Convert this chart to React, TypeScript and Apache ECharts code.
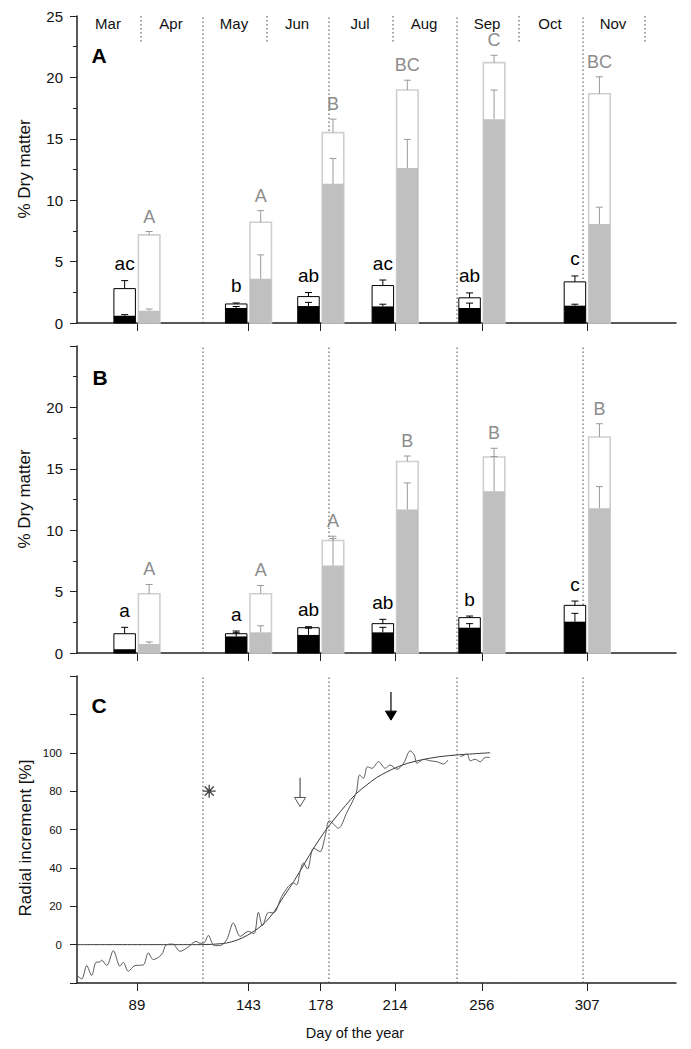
import React, { useEffect, useRef } from "react";
import * as echarts from "echarts";

// ---------- DATA ----------
const groupDays = [89, 143, 178, 214, 256, 307];
const dividerDays = [121, 182, 244, 305];
const monthStartDays = [91, 152, 213, 274, 335];
const monthNames = ["Mar", "Apr", "May", "Jun", "Jul", "Aug", "Sep", "Oct", "Nov"];
const monthMidDays = [75, 105.5, 136, 166.5, 197, 228, 258.5, 289, 319.5];
const xTickDays = [89, 143, 178, 214, 256, 307];

// Panel A
const aWhiteTotal = [2.8, 1.55, 2.15, 3.05, 2.05, 3.35];
const aWhiteTotalErr = [0.65, 0.08, 0.33, 0.45, 0.4, 0.48];
const aBlack = [0.6, 1.22, 1.38, 1.35, 1.22, 1.41];
const aBlackErr = [0.08, 0.12, 0.3, 0.18, 0.4, 0.12];
const aGreyTotal = [7.18, 8.2, 15.5, 18.97, 21.2, 18.67];
const aGreyTotalErr = [0.27, 0.95, 1.1, 0.8, 0.6, 1.38];
const aGrey = [1.0, 3.6, 11.33, 12.63, 16.6, 8.07];
const aGreyErr = [0.14, 1.95, 2.07, 2.32, 2.37, 1.36];
const aBlackLetters = ["ac", "b", "ab", "ac", "ab", "c"];
const aGreyLetters = ["A", "A", "B", "BC", "C", "BC"];

// Panel B
const bWhiteTotal = [1.57, 1.57, 2.06, 2.39, 2.88, 3.88];
const bWhiteTotalErr = [0.52, 0.22, 0.08, 0.35, 0.13, 0.35];
const bBlack = [0.3, 1.35, 1.47, 1.68, 2.06, 2.55];
const bBlackErr = [0, 0.3, 0.55, 0.41, 0.33, 0.68];
const bGreyTotal = [4.83, 4.83, 9.16, 15.6, 15.96, 17.59];
const bGreyTotalErr = [0.75, 0.67, 0.35, 0.44, 0.71, 1.08];
const bGrey = [0.73, 1.68, 7.13, 11.68, 13.17, 11.79];
const bGreyErr = [0.17, 0.54, 2.2, 2.17, 2.83, 1.76];
const bBlackLetters = ["a", "a", "ab", "ab", "b", "c"];
const bGreyLetters = ["A", "A", "A", "B", "B", "B"];

// Panel C
const radialDays1 = [60.1, 62.3, 64.7, 67.1, 69.2, 71.1, 71.9, 74.4, 77.6, 80.8, 82.4, 84.8, 88.1, 92.1, 94.5, 96.9, 101, 103.1, 106.3, 109.9, 113.9, 117.6, 119.6, 121.5, 123.6, 126.4, 129.3, 132.5, 135.7, 139, 143, 145.7, 147.8, 149.8, 152.7, 155.1, 159.1, 162.3, 164.8, 166.4, 168, 169.6, 171.6, 174.5, 177.7, 180.1, 182.2, 186.6, 190.6, 195.1, 196.8, 198.7, 200.6, 202.8, 206, 209.2, 211.6, 214.9, 218.1, 221.3, 223.3, 224.6, 227.8, 231, 234.3, 237.5, 239.6];
const radialVals1 = [-16.1, -17.9, -10.9, -16.1, -9.2, -9.0, -8.1, -10.9, -3.1, -11.3, -9.2, -13.9, -10.9, -10.6, -4.3, -7.8, -5.2, -0.2, 0.3, -3.5, -1.2, 1.7, 0.7, 0.9, 4.8, -0.5, -0.5, 2.6, 11.3, 4.3, 6.9, 5.7, 16.8, 9.9, 16.8, 16.5, 25.1, 30.3, 32.1, 31.2, 38.1, 42.5, 39.4, 50.3, 48.5, 56.3, 64.6, 60.7, 68.8, 78.9, 88.4, 86.7, 92.7, 91.9, 95.3, 91.9, 93.6, 91.4, 94.5, 101, 98.8, 94.5, 96.6, 95.8, 95.3, 94.1, 96.2];
const radialDays2 = [245.5, 248.8, 250.4, 252.8, 255.2, 257.7, 259.8];
const radialVals2 = [97.9, 99.3, 95.8, 96.6, 95.3, 97.6, 97.6];
const fitDays = [60, 120, 130, 135, 140, 145, 150, 155, 160, 165, 170, 175, 180, 185, 190, 195, 200, 205, 210, 215, 220, 230, 240, 250, 260];
const fitVals = [0, 0, 0.5, 1.5, 3.5, 6.5, 10.5, 16.5, 25, 33, 42, 51, 59, 66, 72.5, 78.5, 83, 87, 90, 92.5, 94.5, 97, 98.5, 99.3, 100];
const asteriskPoint = [124, 80];
const arrowDays = [168, 212];
const arrowTops = [87, 131.7];
const arrowTips = [72, 117];
const arrowFilled = [0, 1];

// ---------- LAYOUT ----------
const FONT = "'Liberation Sans', Arial, Helvetica, sans-serif";
const NARROW = "'Liberation Sans Narrow', 'Arial Narrow', 'Liberation Sans', Arial, sans-serif";
const GRID_LEFT = 77;
const GRID_RIGHT = 15;
const GRIDS = [
  { top: 16, height: 307 },
  { top: 346, height: 307 },
  { top: 676, height: 307 },
];
const X_MIN = 60;
const X_MAX = 350;

function barSeries(
  gi: number,
  totals: number[],
  totalErrs: number[],
  parts: number[],
  partErrs: number[],
  letters: string[],
  side: "left" | "right"
) {
  const isLeft = side === "left";
  const outline = isLeft ? "#000" : "#cfcfcf";
  const outlineW = isLeft ? 1 : 1.6;
  const fill = isLeft ? "#000" : "#c0c0c0";
  const errColor = isLeft ? "#000" : "#9a9a9a";
  const letterColor = isLeft ? "#000" : "#8c8c8c";
  const letterSize = isLeft ? 19 : 18;
  const letterGap = isLeft ? 7.5 : 6;
  return {
    type: "custom",
    xAxisIndex: gi,
    yAxisIndex: gi,
    silent: true,
    data: groupDays.map((d, i) => [d, totals[i], totalErrs[i], parts[i], partErrs[i]]),
    encode: { x: 0, y: 1 },
    renderItem: (params: any, api: any) => {
      const i = params.dataIndex;
      const d = api.value(0);
      const tot = api.value(1);
      const totErr = api.value(2);
      const part = api.value(3);
      const partErr = api.value(4);
      const base = api.coord([d, 0]);
      const W = 21.5;
      const G = 1.5;
      const x0 = isLeft ? base[0] - G - W : base[0] + G;
      const cx = x0 + W / 2;
      const yTot = api.coord([d, tot])[1];
      const yTotErr = api.coord([d, tot + totErr])[1];
      const yPart = api.coord([d, part])[1];
      const yPartErr = api.coord([d, part + partErr])[1];
      const cap = 3.5;
      const children: any[] = [];
      children.push({
        type: "rect",
        shape: { x: x0, y: yTot, width: W, height: base[1] - yTot },
        style: { fill: "#fff", stroke: outline, lineWidth: outlineW },
      });
      children.push({
        type: "rect",
        shape: { x: x0, y: yPart, width: W, height: base[1] - yPart },
        style: { fill },
      });
      if (partErr > 0) {
        children.push({
          type: "line",
          shape: { x1: cx, y1: yPart, x2: cx, y2: yPartErr },
          style: { stroke: errColor, lineWidth: 1 },
        });
        children.push({
          type: "line",
          shape: { x1: cx - cap, y1: yPartErr, x2: cx + cap, y2: yPartErr },
          style: { stroke: errColor, lineWidth: 1 },
        });
      }
      if (totErr > 0) {
        children.push({
          type: "line",
          shape: { x1: cx, y1: yTot, x2: cx, y2: yTotErr },
          style: { stroke: errColor, lineWidth: 1 },
        });
        children.push({
          type: "line",
          shape: { x1: cx - cap, y1: yTotErr, x2: cx + cap, y2: yTotErr },
          style: { stroke: errColor, lineWidth: 1 },
        });
      }
      children.push({
        type: "text",
        x: cx,
        y: yTotErr - letterGap,
        style: {
          text: letters[i],
          align: "center",
          verticalAlign: "bottom",
          textAlign: "center",
          textVerticalAlign: "bottom",
          fontSize: letterSize,
          fontFamily: FONT,
          fill: letterColor,
        },
      });
      return { type: "group", children };
    },
  };
}

function dividerSeries(gi: number, yMin: number, yMax: number) {
  return {
    type: "custom",
    xAxisIndex: gi,
    yAxisIndex: gi,
    silent: true,
    data: dividerDays.map((d) => [d, yMin, yMax]),
    encode: { x: 0, y: [1, 2] },
    renderItem: (_p: any, api: any) => {
      const d = api.value(0);
      const a = api.coord([d, api.value(1)]);
      const b = api.coord([d, api.value(2)]);
      return {
        type: "line",
        shape: { x1: a[0], y1: a[1], x2: b[0], y2: b[1] },
        style: { stroke: "#444", lineWidth: 1, lineDash: [1.5, 2.5] },
      };
    },
  };
}

const App: React.FC = () => {
  const ref = useRef<HTMLDivElement>(null);
  useEffect(() => {
    if (!ref.current) return;
    const chart = echarts.init(ref.current, undefined, { renderer: "svg" });

    const grid = GRIDS.map((g) => ({
      left: GRID_LEFT,
      right: GRID_RIGHT,
      top: g.top,
      height: g.height,
      containLabel: false,
      outerBoundsMode: "none",
    }));

    const xAxis = [0, 1, 2].map((gi) => ({
      type: "value",
      gridIndex: gi,
      min: X_MIN,
      max: X_MAX,
      splitLine: { show: false },
      axisLine: { show: true, onZero: false, lineStyle: { color: "#222", width: 1.5 } },
      axisTick: {
        show: true,
        customValues: xTickDays,
        length: 8,
        lineStyle: { color: "#222", width: 1 },
      },
      axisLabel: {
        show: gi === 2,
        customValues: xTickDays,
        margin: 14,
        fontSize: 15,
        fontFamily: NARROW,
        color: "#111",
      },
    }));

    const yCommon = {
      type: "value",
      splitLine: { show: false },
      axisLine: { show: true, lineStyle: { color: "#222", width: 1.5 } },
      axisTick: { show: true, length: 7, lineStyle: { color: "#222", width: 1 } },
    };
    const yAxis = [
      {
        ...yCommon,
        gridIndex: 0,
        min: 0,
        max: 25,
        interval: 5,
        minorTick: { show: true, splitNumber: 2, length: 4, lineStyle: { color: "#222" } },
        axisLabel: { fontSize: 15, fontFamily: FONT, color: "#111", margin: 14 },
      },
      {
        ...yCommon,
        gridIndex: 1,
        min: 0,
        max: 25,
        interval: 5,
        minorTick: { show: true, splitNumber: 2, length: 4, lineStyle: { color: "#222" } },
        axisLabel: {
          fontSize: 15,
          fontFamily: FONT,
          color: "#111",
          margin: 14,
          formatter: (v: number) => (v <= 20 ? String(v) : ""),
        },
      },
      {
        ...yCommon,
        gridIndex: 2,
        min: -20,
        max: 140,
        interval: 20,
        axisLabel: {
          fontSize: 11.5,
          fontFamily: FONT,
          color: "#111",
          margin: 15,
          formatter: (v: number) => (v >= 0 && v <= 100 ? String(v) : ""),
        },
      },
    ];

    const monthLabelSeries = {
      type: "custom",
      xAxisIndex: 0,
      yAxisIndex: 0,
      silent: true,
      data: monthMidDays.map((d) => [d, 25]),
      encode: { x: 0, y: 1 },
      renderItem: (p: any, api: any) => {
        const pt = api.coord([api.value(0), api.value(1)]);
        return {
          type: "text",
          x: pt[0],
          y: pt[1] + 7.5,
          style: {
            text: monthNames[p.dataIndex],
            align: "center",
            verticalAlign: "middle",
            textAlign: "center",
            textVerticalAlign: "middle",
            fontSize: 15,
            fontFamily: FONT,
            fill: "#111",
          },
        };
      },
    };

    const monthSepSeries = {
      type: "custom",
      xAxisIndex: 0,
      yAxisIndex: 0,
      silent: true,
      data: monthStartDays.map((d) => [d, 25]),
      encode: { x: 0, y: 1 },
      renderItem: (_p: any, api: any) => {
        const pt = api.coord([api.value(0), api.value(1)]);
        return {
          type: "line",
          shape: { x1: pt[0], y1: pt[1], x2: pt[0], y2: pt[1] + 27 },
          style: { stroke: "#444", lineWidth: 1, lineDash: [1.5, 2.5] },
        };
      },
    };

    const arrowSeries = {
      type: "custom",
      xAxisIndex: 2,
      yAxisIndex: 2,
      silent: true,
      data: arrowDays.map((d, i) => [d, arrowTops[i], arrowTips[i], arrowFilled[i]]),
      encode: { x: 0, y: [1, 2] },
      renderItem: (_p: any, api: any) => {
        const d = api.value(0);
        const top = api.coord([d, api.value(1)]);
        const tip = api.coord([d, api.value(2)]);
        const filled = api.value(3) === 1;
        const h = 9;
        const hw = 5.5;
        const color = filled ? "#000" : "#555";
        return {
          type: "group",
          children: [
            {
              type: "line",
              shape: { x1: top[0], y1: top[1], x2: top[0], y2: tip[1] - h },
              style: { stroke: color, lineWidth: 1.2 },
            },
            {
              type: "polygon",
              shape: {
                points: [
                  [tip[0] - hw, tip[1] - h],
                  [tip[0] + hw, tip[1] - h],
                  [tip[0], tip[1]],
                ],
              },
              style: { fill: filled ? "#000" : "#fff", stroke: color, lineWidth: 1 },
            },
          ],
        };
      },
    };

    const series: any[] = [
      dividerSeries(0, 0, 25),
      dividerSeries(1, 0, 25),
      dividerSeries(2, -20, 140),
      monthSepSeries,
      monthLabelSeries,
      barSeries(0, aWhiteTotal, aWhiteTotalErr, aBlack, aBlackErr, aBlackLetters, "left"),
      barSeries(0, aGreyTotal, aGreyTotalErr, aGrey, aGreyErr, aGreyLetters, "right"),
      barSeries(1, bWhiteTotal, bWhiteTotalErr, bBlack, bBlackErr, bBlackLetters, "left"),
      barSeries(1, bGreyTotal, bGreyTotalErr, bGrey, bGreyErr, bGreyLetters, "right"),
      {
        type: "line",
        xAxisIndex: 2,
        yAxisIndex: 2,
        data: fitDays.map((d, i) => [d, fitVals[i]]),
        smooth: 0.35,
        showSymbol: false,
        symbol: "none",
        silent: true,
        lineStyle: { color: "#3a3a3a", width: 1 },
      },
      {
        type: "line",
        xAxisIndex: 2,
        yAxisIndex: 2,
        data: radialDays1.map((d, i) => [d, radialVals1[i]]),
        smooth: 0.3,
        showSymbol: false,
        symbol: "none",
        silent: true,
        lineStyle: { color: "#5a5a5a", width: 1 },
      },
      {
        type: "line",
        xAxisIndex: 2,
        yAxisIndex: 2,
        data: radialDays2.map((d, i) => [d, radialVals2[i]]),
        smooth: 0.3,
        showSymbol: false,
        symbol: "none",
        silent: true,
        lineStyle: { color: "#5a5a5a", width: 1 },
      },
      {
        type: "scatter",
        xAxisIndex: 2,
        yAxisIndex: 2,
        silent: true,
        data: [asteriskPoint],
        symbol: "path://M6,0L6,12M0,6L12,6M1.8,1.8L10.2,10.2M1.8,10.2L10.2,1.8",
        symbolSize: 13,
        itemStyle: { color: "transparent", borderColor: "#111", borderWidth: 1.3 },
      },
      arrowSeries,
    ];

    const titleStyle = { fontSize: 17, fontFamily: FONT, fill: "#111" };
    const graphic = [
      {
        type: "text",
        x: 24,
        y: 169,
        rotation: Math.PI / 2,
        style: { text: "% Dry matter", align: "center", verticalAlign: "middle", ...titleStyle },
      },
      {
        type: "text",
        x: 24,
        y: 499,
        rotation: Math.PI / 2,
        style: { text: "% Dry matter", align: "center", verticalAlign: "middle", ...titleStyle },
      },
      {
        type: "text",
        x: 25,
        y: 838,
        rotation: Math.PI / 2,
        style: { text: "Radial increment [%]", align: "center", verticalAlign: "middle", ...titleStyle },
      },
      {
        type: "text",
        x: 355,
        y: 1033,
        style: {
          text: "Day of the year",
          align: "center",
          verticalAlign: "middle",
          fontSize: 14.5,
          fontFamily: NARROW,
          fill: "#111",
        },
      },
      {
        type: "text",
        x: 99,
        y: 55,
        style: { text: "A", align: "center", verticalAlign: "middle", fontSize: 21, fontWeight: "bold", fontFamily: FONT, fill: "#000" },
      },
      {
        type: "text",
        x: 100,
        y: 377,
        style: { text: "B", align: "center", verticalAlign: "middle", fontSize: 21, fontWeight: "bold", fontFamily: FONT, fill: "#000" },
      },
      {
        type: "text",
        x: 99,
        y: 705,
        style: { text: "C", align: "center", verticalAlign: "middle", fontSize: 21, fontWeight: "bold", fontFamily: FONT, fill: "#000" },
      },
    ];

    chart.setOption({
      animation: false,
      backgroundColor: "#fff",
      grid,
      xAxis,
      yAxis,
      series,
      graphic,
    });
    return () => chart.dispose();
  }, []);

  return (
    <div
      ref={ref}
      style={{ position: "fixed", left: 0, top: 0, width: 691, height: 1049, background: "#fff" }}
    />
  );
};

export default App;
